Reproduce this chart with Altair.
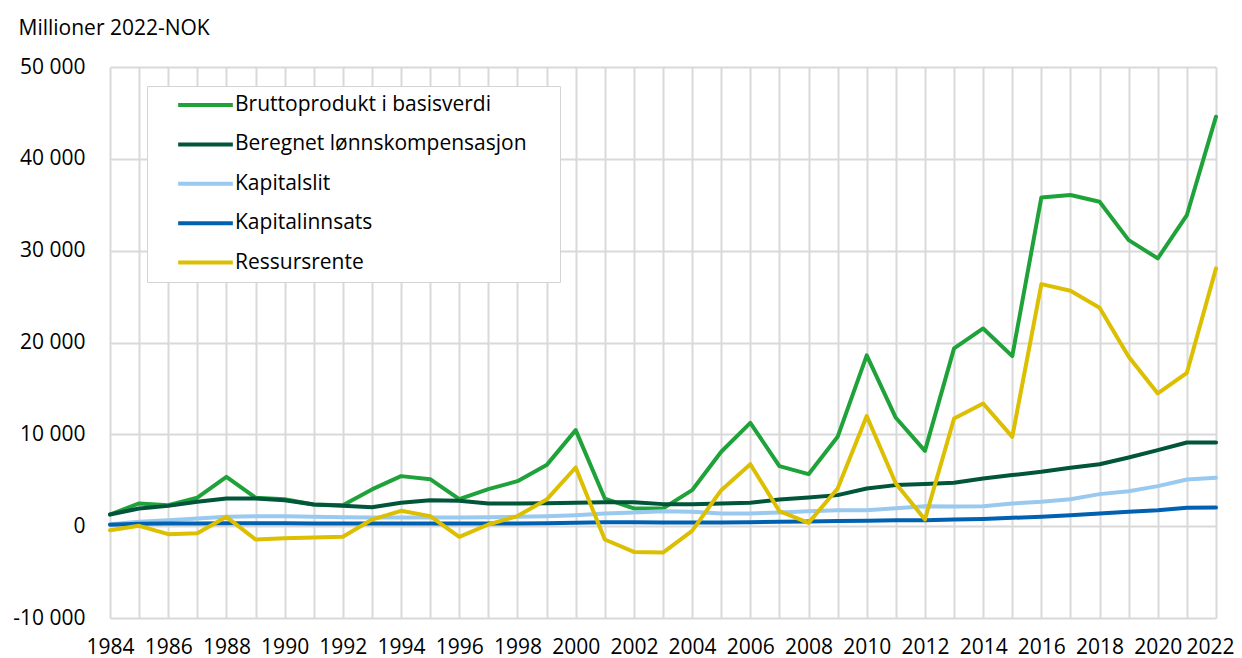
import altair as alt
import pandas as pd

years = list(range(1984, 2023))

brutto = [1270, 2470, 2290, 3100, 5370, 3100, 2940, 2360, 2290, 4000,
          5450, 5120, 2950, 4030, 4900, 6650, 10460, 3010, 1930, 1930,
          3920, 8100, 11250, 6540, 5660, 9730, 18600, 11800, 8200, 19360,
          21530, 18520, 35800, 36060, 35330, 31150, 29160, 33880, 44590]
lonn = [1270, 1930, 2210, 2650, 3010, 3010, 2830, 2360, 2210, 2070,
        2540, 2830, 2760, 2470, 2470, 2500, 2540, 2600, 2600, 2400,
        2400, 2470, 2540, 2900, 3120, 3380, 4100, 4470, 4580, 4720,
        5190, 5560, 5920, 6360, 6750, 7480, 8280, 9110, 9110]
kapitalslit = [220, 470, 650, 830, 1020, 1090, 1090, 1020, 960, 950,
               950, 950, 950, 980, 1020, 1090, 1200, 1380, 1490, 1630,
               1560, 1380, 1380, 1490, 1630, 1740, 1740, 1950, 2180, 2140,
               2180, 2470, 2650, 2940, 3490, 3810, 4360, 5080, 5260]
kapitalinnsats = [150, 250, 280, 300, 320, 320, 320, 300, 290, 280,
                  280, 280, 280, 290, 300, 320, 380, 420, 420, 400,
                  400, 400, 430, 480, 520, 560, 600, 650, 650, 720,
                  790, 910, 1020, 1200, 1380, 1560, 1740, 2000, 2030]
ressursrente = [-440, 40, -870, -760, 1020, -1450, -1310, -1240, -1160, 720,
                1670, 1090, -1160, 180, 1100, 2900, 6390, -1450, -2800, -2870,
                -510, 3920, 6750, 1630, 360, 4100, 12000, 4650, 730, 11730,
                13360, 9730, 26360, 25630, 23780, 18450, 14450, 16700, 28070]

series_names = ["Bruttoprodukt i basisverdi", "Beregnet lønnskompensasjon",
                "Kapitalslit", "Kapitalinnsats", "Ressursrente"]
series_colors = ["#20a23a", "#00553a", "#99c9ee", "#0061b0", "#dbbf00"]
series_values = [brutto, lonn, kapitalslit, kapitalinnsats, ressursrente]
y_ticks = [-10000, 0, 10000, 20000, 30000, 40000, 50000]

rows = []
for order, (name, vals) in enumerate(zip(series_names, series_values)):
    for yr, v in zip(years, vals):
        rows.append({"year": yr, "value": v, "series": name, "order": order})
df = pd.DataFrame(rows)

FONT = "Open Sans"
FS = 21
PAD_TAIL = "\\u00a0" * 5 + "\\u200b"

chart = alt.Chart(df).mark_line(strokeWidth=4, strokeCap="round", strokeJoin="round").encode(
    x=alt.X("year:Q",
            scale=alt.Scale(domain=[1984, 2022], nice=False, zero=False),
            axis=alt.Axis(values=years, title=None, grid=True, ticks=False, domain=False,
                          labelExpr="datum.value % 2 == 0 ? '' + datum.value : ''",
                          labelOffset={"condition": {"test": "datum.value == 2022", "value": -6},
                                       "value": 0},
                          labelPadding=18, labelFlush=False)),
    y=alt.Y("value:Q",
            scale=alt.Scale(domain=[-10000, 50000], nice=False),
            axis=alt.Axis(values=y_ticks, title="Millioner 2022-NOK", titleAngle=0,
                          titleAlign="left", titleBaseline="alphabetic",
                          titleX=-92, titleY=-33, ticks=False, domain=False,
                          labelPadding=25,
                          labelExpr="replace(replace(format(datum.value, ','), ',', ' '), '\u2212', '-')")),
    color=alt.Color("series:N",
                    scale=alt.Scale(domain=series_names, range=series_colors),
                    legend=alt.Legend(title=None, orient="none", legendX=37, legendY=19,
                                      symbolType="stroke", symbolSize=2990, symbolStrokeWidth=4,
                                      symbolOffset=23, clipHeight=26,
                                      labelFontSize=FS, labelFont=FONT, labelColor="#000000",
                                      labelLimit=0, labelOffset=0,
                                      labelExpr="datum.label + '" + PAD_TAIL + "'",
                                      rowPadding=13.4, padding=6,
                                      strokeColor="#d4d4d4", fillColor="#ffffff")),
    order=alt.Order("order:Q"),
    detail="series:N",
).properties(
    width=1106, height=551,
    autosize=alt.AutoSizeParams(type="none"),
    padding={"left": 102, "top": 59, "right": 18, "bottom": 40},
).configure_axis(
    gridColor="#d9d9d9", gridWidth=2,
    labelFont=FONT, labelFontSize=FS, labelColor="#000000",
    titleFont=FONT, titleFontSize=FS, titleFontWeight="normal", titleColor="#000000",
).configure_view(stroke=None)

chart.save("out.html", embed_options={"renderer": "svg", "actions": False})
